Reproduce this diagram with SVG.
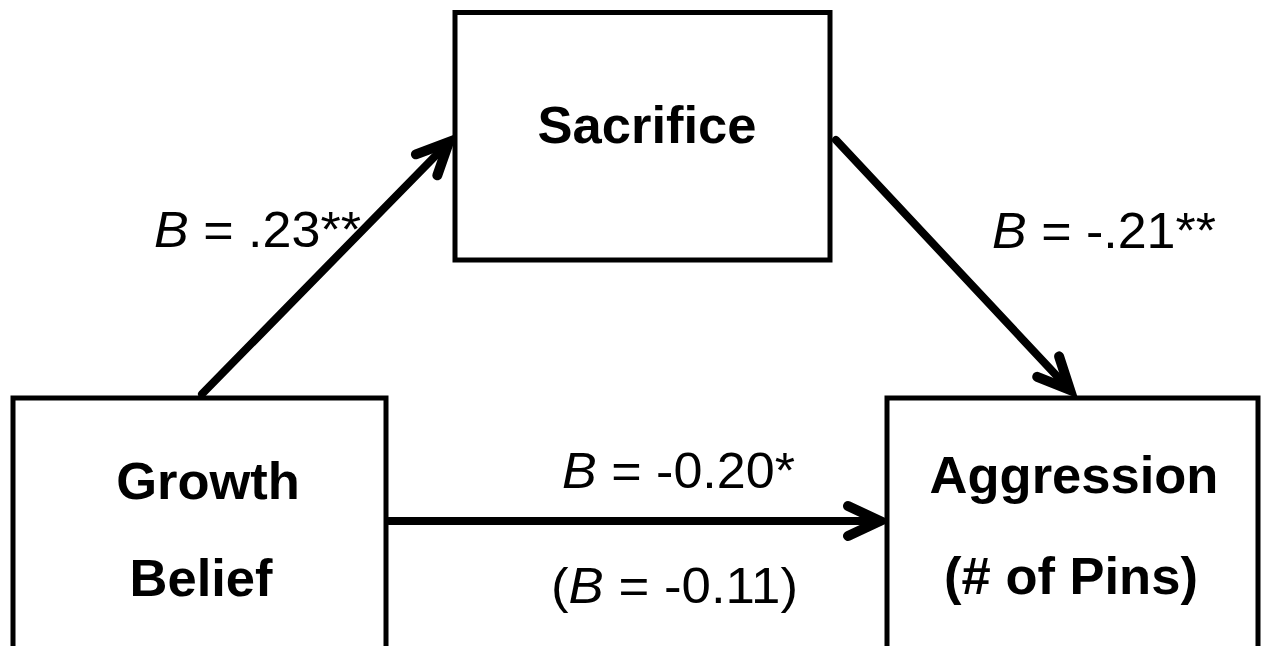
<svg xmlns="http://www.w3.org/2000/svg" width="1262" height="646" viewBox="0 0 1262 646">
<style>
.box{fill:#fff;stroke:#000;stroke-width:5}
.t{font-family:"Liberation Sans",Arial,sans-serif;font-weight:bold;font-size:52.5px;fill:#000;text-anchor:middle}
.l{font-family:"Liberation Sans",Arial,sans-serif;font-size:50px;fill:#000}
.i{font-style:italic}
.c{fill:none;stroke:#000;stroke-width:8;stroke-linecap:round;stroke-linejoin:round}
</style>
<defs>
<marker id="ah" markerUnits="userSpaceOnUse" viewBox="-40 -20 45 40" refX="0" refY="0" markerWidth="45" markerHeight="40" orient="auto" overflow="visible">
<path d="M-32,-15 L0,0 L-32,15" fill="none" stroke="#000" stroke-width="10" stroke-linecap="round" stroke-linejoin="miter"/>
</marker>
</defs>
<g id="connectors">
<line class="c" x1="202" y1="394" x2="449" y2="142" marker-end="url(#ah)"/>
<line class="c" x1="836" y1="140" x2="1070" y2="390" marker-end="url(#ah)"/>
<line class="c" x1="389" y1="521" x2="880" y2="521" marker-end="url(#ah)"/>
</g>
<g id="sacrifice">
<rect class="box" x="455" y="12.5" width="375" height="247.5"/>
<text class="t" x="647" y="143">Sacrifice</text>
</g>
<g id="growth">
<rect class="box" x="13" y="398" width="373" height="260"/>
<text class="t" x="208" y="499">Growth</text>
<text class="t" x="201" y="596">Belief</text>
</g>
<g id="aggression">
<rect class="box" x="887" y="398" width="371" height="260"/>
<text class="t" x="1074" y="493">Aggression</text>
<text class="t" x="1071" y="594">(# of Pins)</text>
</g>
<g id="labels">
<text class="l" x="154" y="247" textLength="207" lengthAdjust="spacingAndGlyphs"><tspan class="i">B</tspan> = .23**</text>
<text class="l" x="992" y="248" textLength="224" lengthAdjust="spacingAndGlyphs"><tspan class="i">B</tspan> = -.21**</text>
<text class="l" x="562" y="488" textLength="233" lengthAdjust="spacingAndGlyphs"><tspan class="i">B</tspan> = -0.20*</text>
<text class="l" x="551" y="603" textLength="247" lengthAdjust="spacingAndGlyphs">(<tspan class="i">B</tspan> = -0.11)</text>
</g>
</svg>
